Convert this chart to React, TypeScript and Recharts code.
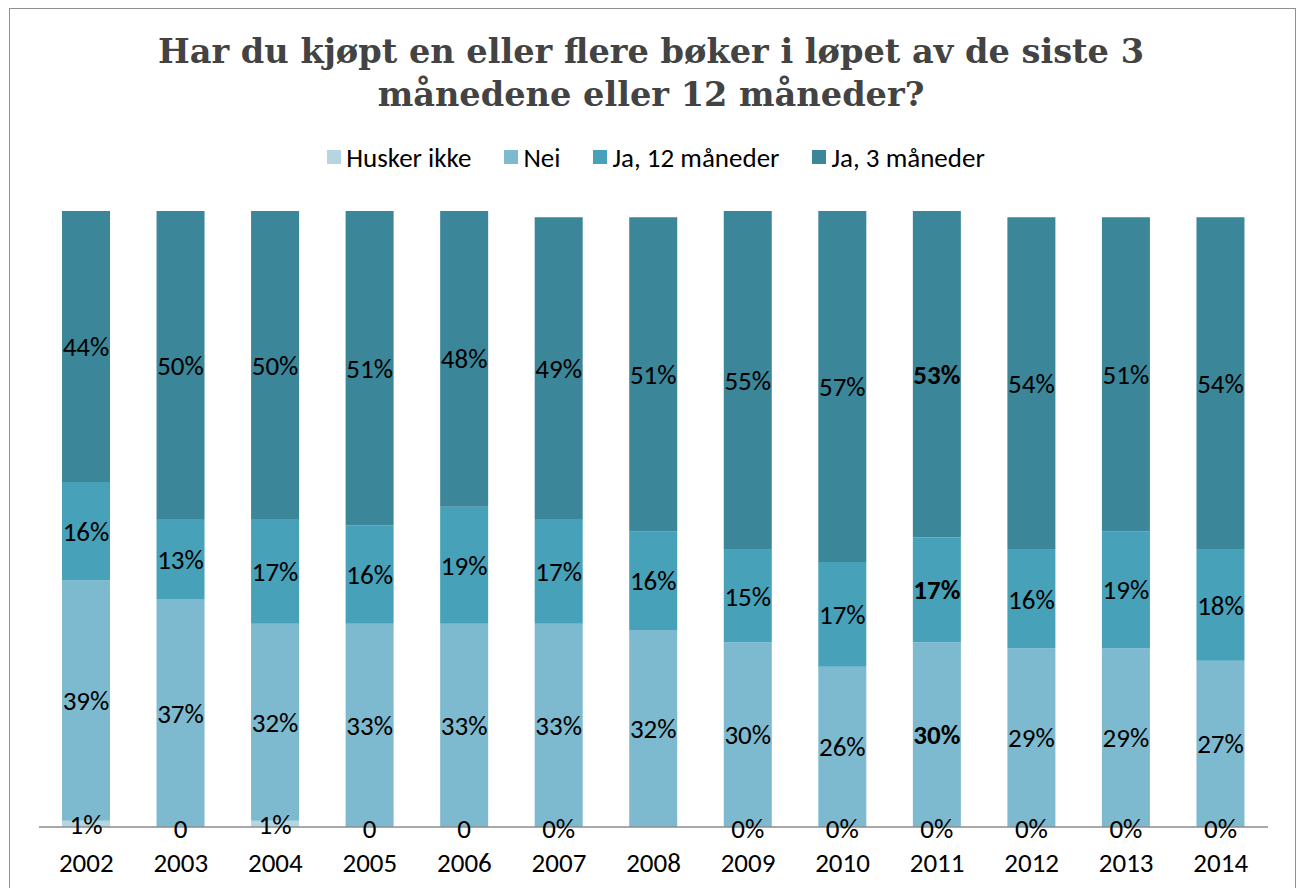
import React from "react";
import { BarChart, Bar, XAxis, YAxis, LabelList } from "recharts";

const years = ["2002", "2003", "2004", "2005", "2006", "2007", "2008", "2009", "2010", "2011", "2012", "2013", "2014"];
const huskerIkke: (number | null)[] = [1, 0, 1, 0, 0, 0, null, 0, 0, 0, 0, 0, 0];
const huskerIkkeLabels = ["1%", "0", "1%", "0", "0", "0%", "", "0%", "0%", "0%", "0%", "0%", "0%"];
const nei = [39, 37, 32, 33, 33, 33, 32, 30, 26, 30, 29, 29, 27];
const ja12 = [16, 13, 17, 16, 19, 17, 16, 15, 17, 17, 16, 19, 18];
const ja3 = [44, 50, 50, 51, 48, 49, 51, 55, 57, 53, 54, 51, 54];
const boldYear = "2011";

const seriesNames = ["Husker ikke", "Nei", "Ja, 12 måneder", "Ja, 3 måneder"];
const colors = ["#B5D6E1", "#7DB9CF", "#46A1B9", "#3B8699"];

const data = years.map((y, i) => ({
  year: y,
  h: huskerIkke[i],
  n: nei[i],
  j12: ja12[i],
  j3: ja3[i],
  nL: `${nei[i]}%`,
  j12L: `${ja12[i]}%`,
  j3L: `${ja3[i]}%`,
}));

const FONT = "Carlito, 'Liberation Sans', Arial, sans-serif";
const FS = 27;

const Txt = ({ x, y, bold, children }: any) => (
  <text
    x={x}
    y={y}
    textAnchor="middle"
    dominantBaseline="central"
    fontFamily={FONT}
    fontSize={FS}
    fontWeight={bold ? "bold" : "normal"}
    fill="#000"
  >
    {children}
  </text>
);

const makeLabel = (allowBold: boolean) => (props: any) => {
  const { x, y, width, height, value, index } = props;
  if (value === "" || value == null) return null;
  const bold = allowBold && years[index] === boldYear;
  return (
    <Txt x={Number(x) + Number(width) / 2} y={Number(y) + Number(height) / 2} bold={bold}>
      {value}
    </Txt>
  );
};

// Nei labels, plus the "Husker ikke" label for the segment directly beneath
const neiLabel = (props: any) => {
  const { x, y, width, height, value, index } = props;
  const cx = Number(x) + Number(width) / 2;
  const top = Number(y);
  const h = Number(height);
  const bold = years[index] === boldYear;
  const unit = h / nei[index];
  const hv = huskerIkke[index] ?? 0;
  const hCenter = top + h + (hv * unit) / 2 + 1;
  const hLabel = huskerIkkeLabels[index];
  return (
    <g>
      <Txt x={cx} y={top + h / 2} bold={bold}>
        {value}
      </Txt>
      {hLabel ? (
        <Txt x={cx} y={hCenter} bold={false}>
          {hLabel}
        </Txt>
      ) : null}
    </g>
  );
};

const Tick = (props: any) => {
  const { x, y, payload } = props;
  return (
    <text x={x} y={y + 27} textAnchor="middle" dominantBaseline="central" fontFamily={FONT} fontSize={FS} fill="#000">
      {payload.value}
    </text>
  );
};

export default function App() {
  return (
    <div style={{ position: "absolute", left: 0, top: 0, width: 1302, height: 888, background: "#fff", overflow: "hidden" }}>
      <div
        style={{
          position: "absolute",
          left: 9,
          top: 8,
          width: 1287,
          height: 900,
          border: "1px solid #8f8f8f",
          boxSizing: "border-box",
        }}
      />
      <div
        style={{
          position: "absolute",
          left: 0,
          top: 30,
          width: 1302,
          textAlign: "center",
          fontFamily: "'DejaVu Serif', 'Liberation Serif', serif",
          fontWeight: "bold",
          fontSize: 33.6,
          lineHeight: "43px",
          color: "#434343",
        }}
      >
        Har du kjøpt en eller flere bøker i løpet av de siste 3
        <br />
        månedene eller 12 måneder?
      </div>
      <div
        style={{
          position: "absolute",
          left: 5,
          top: 144,
          width: 1302,
          height: 26,
          display: "flex",
          justifyContent: "center",
          alignItems: "center",
          fontFamily: FONT,
          fontSize: FS,
          color: "#000",
        }}
      >
        {seriesNames.map((n, i) => (
          <div key={n} style={{ display: "flex", alignItems: "center", marginRight: i < 3 ? 33 : 0 }}>
            <div style={{ width: 14, height: 14, background: colors[i], marginRight: 5 }} />
            <span>{n}</span>
          </div>
        ))}
      </div>
      <div style={{ position: "absolute", left: 0, top: 0 }}>
        <BarChart width={1302} height={888} data={data} margin={{ top: 211, right: 34, bottom: 0, left: 39 }} barSize={48}>
          <XAxis
            dataKey="year"
            height={61}
            axisLine={{ stroke: "#8c8c8c", strokeWidth: 1.5 }}
            tickLine={false}
            tick={<Tick />}
            interval={0}
          />
          <YAxis hide domain={[0, 100]} />
          <Bar dataKey="h" stackId="a" fill={colors[0]} isAnimationActive={false} />
          <Bar dataKey="n" stackId="a" fill={colors[1]} isAnimationActive={false}>
            <LabelList dataKey="nL" content={neiLabel} />
          </Bar>
          <Bar dataKey="j12" stackId="a" fill={colors[2]} isAnimationActive={false}>
            <LabelList dataKey="j12L" content={makeLabel(true)} />
          </Bar>
          <Bar dataKey="j3" stackId="a" fill={colors[3]} isAnimationActive={false}>
            <LabelList dataKey="j3L" content={makeLabel(true)} />
          </Bar>
        </BarChart>
      </div>
    </div>
  );
}
